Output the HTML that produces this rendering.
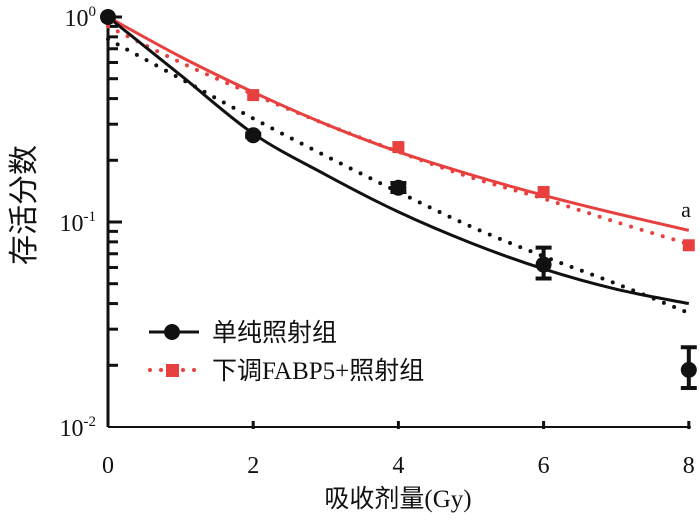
<!DOCTYPE html>
<html><head><meta charset="utf-8"><style>
body{margin:0;background:#fff}
svg{display:block}
text{font-family:"Liberation Serif","Noto Serif CJK SC",serif}
.cn{font-family:"Liberation Serif","Noto Sans CJK SC",sans-serif}
</style></head><body>
<svg id="chart" width="700" height="526" viewBox="0 0 700 526"></svg>
<script>
const doses=[0,2,4,6,8];
const blackPts=[1.0,0.265,0.147,0.062,0.019];
const blackErrLo=[1.0,0.26,0.14,0.053,0.0155];
const blackErrHi=[1.0,0.27,0.155,0.075,0.0245];
const redPts=[1.0,0.416,0.232,0.14,0.077];
const fitDoses=[0,1,2,3,4,5,6,7,8];
const blackSolid=[1,0.52,0.27,0.17,0.112,0.079,0.059,0.047,0.04];
const blackDotted=[0.78,0.5,0.32,0.21,0.14,0.095,0.068,0.05,0.036];
const redSolid=[1,0.64,0.43,0.3,0.22,0.17,0.135,0.11,0.091];
const redDotted=[0.9,0.6,0.42,0.3,0.22,0.165,0.13,0.1,0.078];
const xTicks=[0,2,4,6,8];
const yTicks=[["10","0",1],["10","-1",0.1],["10","-2",0.01]];

const svg=document.getElementById('chart');
const NS='http://www.w3.org/2000/svg';
const X0=108,XS=72.6,Y0=17,DEC=205,YB=427;
const xs=d=>X0+d*XS;
const ys=v=>Y0-Math.log10(v)*DEC;
function mk(t,a,parent){const e=document.createElementNS(NS,t);for(const k in a)e.setAttribute(k,a[k]);(parent||svg).appendChild(e);return e;}
function smooth(xv,yv){const p=xv.map((d,i)=>[xs(d),ys(yv[i])]);let s=`M${p[0][0]},${p[0][1]}`;
for(let i=0;i<p.length-1;i++){const p0=p[Math.max(0,i-1)],p1=p[i],p2=p[i+1],p3=p[Math.min(p.length-1,i+2)];
s+=` C${p1[0]+(p2[0]-p0[0])/6},${p1[1]+(p2[1]-p0[1])/6} ${p2[0]-(p3[0]-p1[0])/6},${p2[1]-(p3[1]-p1[1])/6} ${p2[0]},${p2[1]}`;}return s;}

let e=mk('line',{x1:X0,y1:Y0-3,x2:X0,y2:YB,stroke:'#111','stroke-width':3});

e=mk('line',{x1:X0,y1:YB,x2:xs(8)+2,y2:YB,stroke:'#111','stroke-width':2});

for(let dec=0;dec<2;dec++){for(let m=1;m<=9;m++){
 const val=m===1?Math.pow(10,-dec):Math.pow(10,-dec-1)*m;
 const y=ys(val);e=mk('line',{x1:X0,y1:y,x2:X0+(m===1?14:10),y2:y,stroke:'#111','stroke-width':3});
 }}
xTicks.forEach(t=>{if(t===0)return;e=mk('line',{x1:xs(t),y1:YB-6,x2:xs(t),y2:YB+2,stroke:'#111','stroke-width':3});
 });
xTicks.forEach(t=>{e=mk('text',{x:xs(t),y:473,'font-size':24,'text-anchor':'middle',fill:'#111'});e.textContent=t;
 });
yTicks.forEach(t=>{e=mk('text',{x:96,y:ys(t[2])+9,'font-size':24,'text-anchor':'end',fill:'#111'});
 
 const a=mk('tspan',{},e);a.textContent=t[0];const b=mk('tspan',{dy:-10,'font-size':15},e);b.textContent=t[1];});
e=mk('text',{x:0,y:0,'font-size':30,'text-anchor':'middle',fill:'#111',class:'cn',transform:'translate(34,205) rotate(-90)'});
e.textContent='存活分数';
e=mk('text',{x:398,y:507,'font-size':25,'text-anchor':'middle',fill:'#111',class:'cn'});
e.textContent='吸收剂量(Gy)';

e=mk('path',{d:smooth(fitDoses,redSolid),fill:'none',stroke:'#e8403f','stroke-width':3});

e=mk('path',{d:smooth(fitDoses,redDotted),fill:'none',stroke:'#e8403f','stroke-width':4,'stroke-dasharray':'0 11','stroke-linecap':'round'});

e=mk('path',{d:smooth(fitDoses,blackSolid),fill:'none',stroke:'#111','stroke-width':3});

e=mk('path',{d:smooth(fitDoses,blackDotted),fill:'none',stroke:'#111','stroke-width':4,'stroke-dasharray':'0 11','stroke-linecap':'round'});


redPts.forEach((v,i)=>{e=mk('rect',{x:xs(doses[i])-6,y:ys(v)-6,width:12,height:12,fill:'#e8403f'});
 });
blackPts.forEach((v,i)=>{const x=xs(doses[i]);
 if(blackErrHi[i]!==blackErrLo[i]){const y1=ys(blackErrHi[i]),y2=ys(blackErrLo[i]);
  e=mk('path',{d:`M${x},${y1}V${y2}M${x-8},${y1}H${x+8}M${x-8},${y2}H${x+8}`,stroke:'#111','stroke-width':4,fill:'none'});
  }
 e=mk('circle',{cx:x,cy:ys(v),r:8,fill:'#111'});
 });
e=mk('text',{x:686,y:217,'font-size':22,'text-anchor':'middle',fill:'#111'});e.textContent='a';


const lg=mk('g',{});
mk('line',{x1:149,y1:332,x2:199,y2:332,stroke:'#111','stroke-width':3},lg);
mk('circle',{cx:172,cy:332,r:8,fill:'#111'},lg);
e=mk('text',{x:212,y:341,'font-size':25,fill:'#111',class:'cn'},lg);e.textContent='单纯照射组';

mk('line',{x1:150,y1:370,x2:200,y2:370,stroke:'#e8403f','stroke-width':4,'stroke-dasharray':'0 11','stroke-linecap':'round'},lg);
mk('rect',{x:166,y:364,width:13,height:13,fill:'#e8403f'},lg);
e=mk('text',{x:212,y:379,'font-size':25,fill:'#111',class:'cn'},lg);e.textContent='下调FABP5+照射组';

</script>
</body></html>
